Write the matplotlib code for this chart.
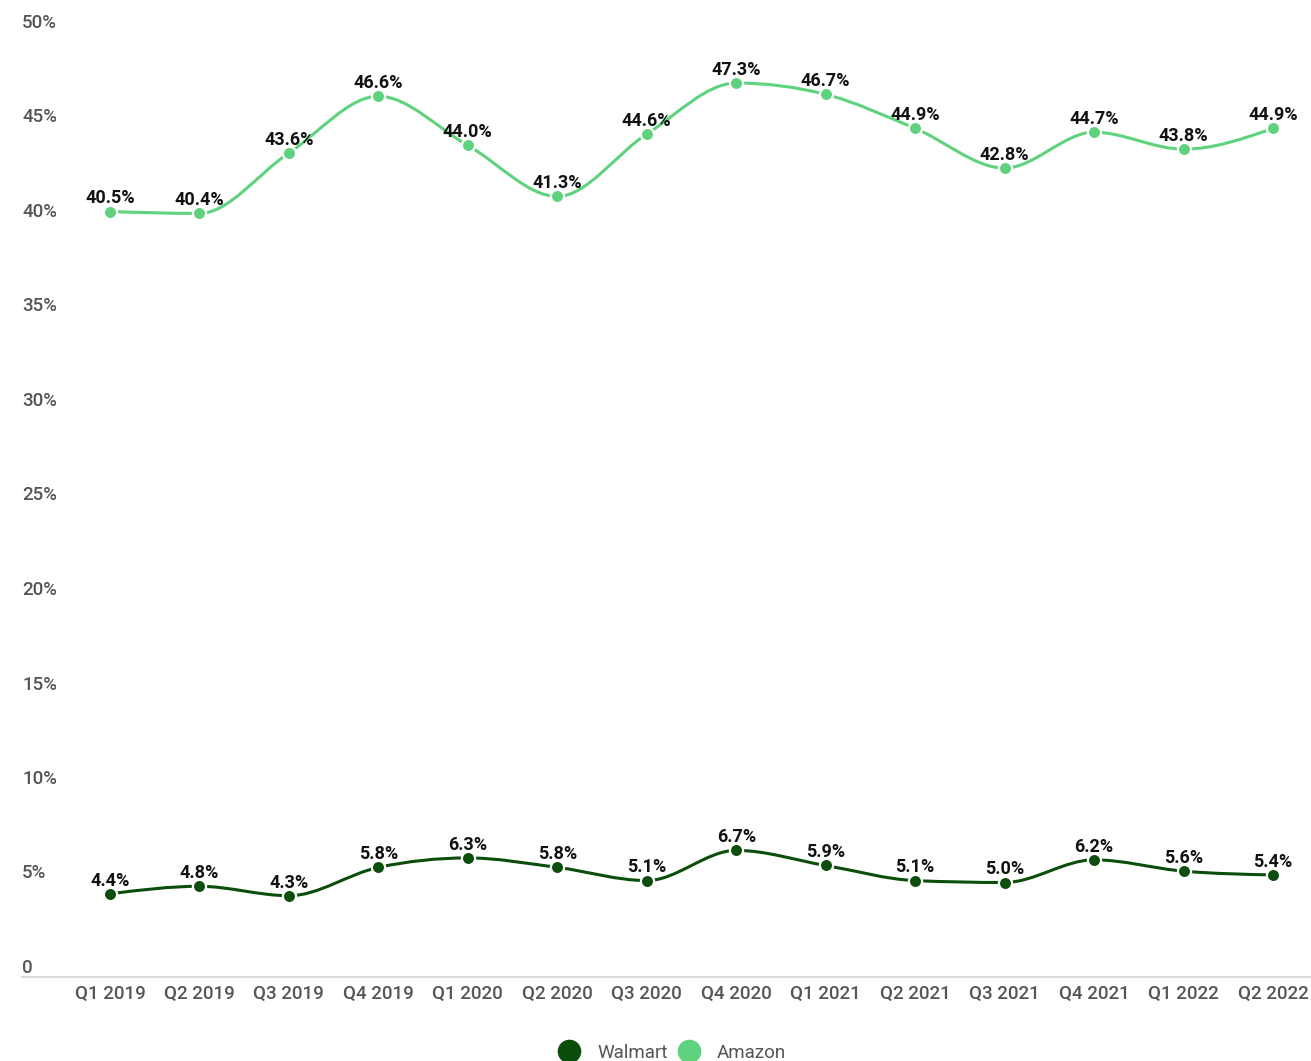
import numpy as np
import matplotlib.pyplot as plt
from matplotlib.path import Path
from matplotlib.patches import PathPatch
from matplotlib.lines import Line2D

plt.rcParams['font.family'] = ['Roboto', 'DejaVu Sans']

quarters = ["Q1 2019", "Q2 2019", "Q3 2019", "Q4 2019", "Q1 2020", "Q2 2020", "Q3 2020",
            "Q4 2020", "Q1 2021", "Q2 2021", "Q3 2021", "Q4 2021", "Q1 2022", "Q2 2022"]
walmart = [4.4, 4.8, 4.3, 5.8, 6.3, 5.8, 5.1, 6.7, 5.9, 5.1, 5.0, 6.2, 5.6, 5.4]
amazon = [40.5, 40.4, 43.6, 46.6, 44.0, 41.3, 44.6, 47.3, 46.7, 44.9, 42.8, 44.7, 43.8, 44.9]
yticks = [0, 5, 10, 15, 20, 25, 30, 35, 40, 45, 50]

c_walmart = "#0b4d0b"
c_amazon = "#5ed27c"
grey = "#555555"


def monotone_path(x, y):
    # smooth monotone-x curve drawn as cubic bezier segments
    x = np.asarray(x, float)
    y = np.asarray(y, float)
    n = len(x)
    h = np.diff(x)
    s = np.diff(y) / h
    t = np.zeros(n)
    for i in range(1, n - 1):
        p = (s[i - 1] * h[i] + s[i] * h[i - 1]) / (h[i - 1] + h[i])
        t[i] = (np.sign(s[i - 1]) + np.sign(s[i])) * min(abs(s[i - 1]), abs(s[i]), 0.5 * abs(p))
    t[0] = (3 * s[0] - t[1]) / 2
    t[-1] = (3 * s[-1] - t[-2]) / 2
    verts = [(x[0], y[0])]
    codes = [Path.MOVETO]
    for i in range(n - 1):
        dx = h[i] / 3
        verts += [(x[i] + dx, y[i] + dx * t[i]), (x[i + 1] - dx, y[i + 1] - dx * t[i + 1]), (x[i + 1], y[i + 1])]
        codes += [Path.CURVE4] * 3
    return Path(verts, codes)


fig = plt.figure(figsize=(13.11, 10.61), dpi=100)
W, H = 1311, 1061
ax = fig.add_axes([22 / W, (H - 977) / H, (1311 - 22) / W, 945 / H])

xs = np.arange(len(quarters))
step = 89.46
ax.set_xlim((22 - 110) / step, (1311 - 110) / step)
ax.set_ylim(0, 50)

for vals, col in [(walmart, c_walmart), (amazon, c_amazon)]:
    ax.add_patch(PathPatch(monotone_path(xs, vals), fill=False, edgecolor=col, lw=2.2,
                           capstyle='round', zorder=2))
    ax.plot(xs, vals, 'o', color=col, ms=9.5, mec='white', mew=1.6, zorder=3)
    for xi, v in zip(xs, vals):
        ax.annotate(f"{v:.1f}%", (xi, v), xytext=(0, 3), textcoords='offset points',
                    ha='center', va='bottom', fontsize=13, fontweight='bold', color='#111111')

for sp in ['top', 'right', 'left']:
    ax.spines[sp].set_visible(False)
ax.spines['bottom'].set_color('#dcdcdc')
ax.spines['bottom'].set_linewidth(1.6)

ax.set_yticks([])
ax.set_xticks(xs)
ax.set_xticklabels(quarters, fontsize=13.5, color=grey, fontweight='medium')
ax.tick_params(axis='x', length=0, pad=6)

for v in yticks:
    ax.annotate("0" if v == 0 else f"{v}%", (0, v), xycoords=('axes fraction', 'data'),
                xytext=(0, 0), textcoords='offset points', ha='left', va='bottom',
                fontsize=13.5, color=grey, fontweight='medium', annotation_clip=False)

handles = [Line2D([], [], marker='o', ls='', color=c_walmart, ms=16, label='Walmart'),
           Line2D([], [], marker='o', ls='', color=c_amazon, ms=16, label='Amazon')]
fig.legend(handles=handles, loc='center', bbox_to_anchor=(672 / W, 1 - 1053 / H), ncol=2,
           frameon=False, fontsize=13.5, labelcolor=grey, handletextpad=0.9, columnspacing=0.5,
           handlelength=1.2)

fig.savefig("out.png", dpi=100)
